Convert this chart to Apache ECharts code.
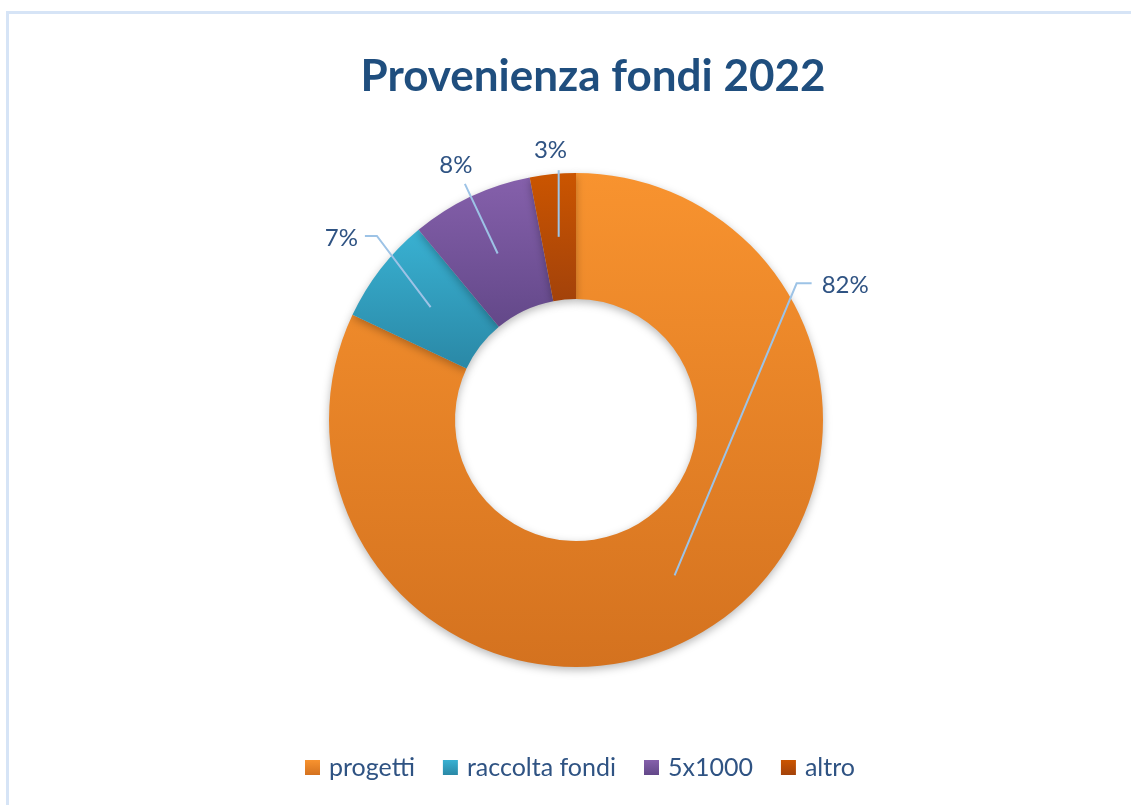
<!DOCTYPE html>
<html>
<head>
<meta charset="utf-8">
<title>Provenienza fondi 2022</title>
<script src="https://cdn.jsdelivr.net/npm/echarts@6/dist/echarts.min.js"></script>
<style>
    html, body { margin: 0; padding: 0; background: #fff; overflow: hidden; }
    #frame {
        position: absolute; left: 6px; top: 11px; width: 1400px; height: 1000px;
        border-left: 3px solid #d6e4f6; border-top: 3px solid #d6e4f6;
    }
    #chart { position: absolute; left: 0; top: 0; width: 1131px; height: 805px; }
</style>
</head>
<body>
<div id="frame"></div>
<div id="chart"></div>
<script>
// data ///////
var categories = ['progetti', 'raccolta fondi', '5x1000', 'altro'];
var shares = [82, 7, 8, 3];

// slice colours, top and bottom of the vertical gradient
var topColors = ['#f8932f', '#39b1d2', '#8560ab', '#cb5500'];
var bottomColors = ['#d4721f', '#2a88a6', '#634889', '#a3420a'];

var center = [576, 420];
var radius = [121, 247];
var midRadius = (radius[0] + radius[1]) / 2;

var total = shares.reduce(function (a, b) { return a + b; }, 0);

// angle (clockwise from 12 o'clock) in the middle of slice i
function midAngle(i) {
    var before = 0;
    for (var k = 0; k < i; k++) before += shares[k];
    return (before + shares[i] / 2) / total * Math.PI * 2;
}
function polar(t, r) {
    return [center[0] + r * Math.sin(t), center[1] - r * Math.cos(t)];
}

// distance of the labels from the centre (as Excel placed them)
var labelDist = [301, 297, 282, 271];

// leader lines start in the middle of the slice, like in Excel
function labelLayout(params) {
    var i = params.dataIndex;
    var t = midAngle(i);
    var start = polar(t, midRadius);
    var pos;
    if (i === 0) {
        pos = polar(Math.PI / 2 - 0.464, labelDist[0]); // moved by hand, upper right
    } else {
        pos = polar(t, labelDist[i]);
    }
    var w = params.labelRect.width;
    var pts;
    if (i === 0) {
        var lx = pos[0] - w / 2;
        pts = [start, [lx - 25, pos[1] - 2], [lx - 10, pos[1] - 2]];
    } else if (i === 1) {
        var rx = pos[0] + w / 2;
        pts = [start, [rx + 19, pos[1] - 2], [rx + 7, pos[1] - 2]];
    } else if (i === 3) {
        pts = [start, [start[0], pos[1] + 20]];
    } else {
        var dx = pos[0] - start[0], dy = pos[1] - start[1];
        var len = Math.sqrt(dx * dx + dy * dy);
        var k = (len - 21) / len;
        pts = [start, [start[0] + dx * k, start[1] + dy * k]];
    }
    return {
        x: pos[0],
        y: pos[1],
        align: 'center',
        verticalAlign: 'middle',
        labelLinePoints: pts
    };
}

var pieData = categories.map(function (name, i) {
    return {
        name: name,
        value: shares[i],
        itemStyle: {
            color: new echarts.graphic.LinearGradient(0, 0, 0, 1, [
                { offset: 0, color: topColors[i] },
                { offset: 1, color: bottomColors[i] }
            ])
        }
    };
});

// same slices, invisible, only to draw labels and leader lines above the ring
var labelData = categories.map(function (name, i) {
    return { name: name, value: shares[i] };
});

var option = {
    animation: false,
    textStyle: { fontFamily: 'Lato' },
    title: {
        text: 'Provenienza fondi 2022',
        left: 588,
        top: 50,
        textAlign: 'center',
        textStyle: {
            fontFamily: 'Lato',
            fontWeight: 'bold',
            fontSize: 44,
            color: '#1f4e7e'
        }
    },
    legend: {
        data: categories,
        left: 305,
        top: 755,
        padding: 0,
        icon: 'rect',
        itemWidth: 15,
        itemHeight: 15,
        itemGap: 28,
        textStyle: {
            fontFamily: 'Lato',
            fontSize: 25,
            color: '#2f5383',
            padding: [0, 0, 0, 4]
        }
    },
    series: [
        {
            type: 'pie',
            center: center,
            radius: radius,
            startAngle: 90,
            clockwise: true,
            data: pieData,
            itemStyle: {
                borderWidth: 0,
                shadowBlur: 8,
                shadowColor: 'rgba(0,0,0,0.28)',
                shadowOffsetY: 3
            },
            label: { show: false },
            labelLine: { show: false },
            emphasis: { disabled: true }
        },
        {
            type: 'pie',
            z: 3,
            silent: true,
            center: center,
            radius: radius,
            startAngle: 90,
            clockwise: true,
            avoidLabelOverlap: false,
            data: labelData,
            itemStyle: { color: 'rgba(0,0,0,0)', borderWidth: 0 },
            label: {
                show: true,
                position: 'outside',
                formatter: '{c}%',
                fontFamily: 'Lato',
                fontSize: 24,
                color: '#2f5383'
            },
            labelLine: {
                show: true,
                length: 10,
                length2: 10,
                lineStyle: { color: '#9dc3e6', width: 2 }
            },
            labelLayout: labelLayout,
            emphasis: { disabled: true }
        }
    ]
};

var chart = echarts.init(document.getElementById('chart'));
chart.setOption(option);

window.addEventListener('resize', function () {
    chart.resize();
});
</script>
</body>
</html>
